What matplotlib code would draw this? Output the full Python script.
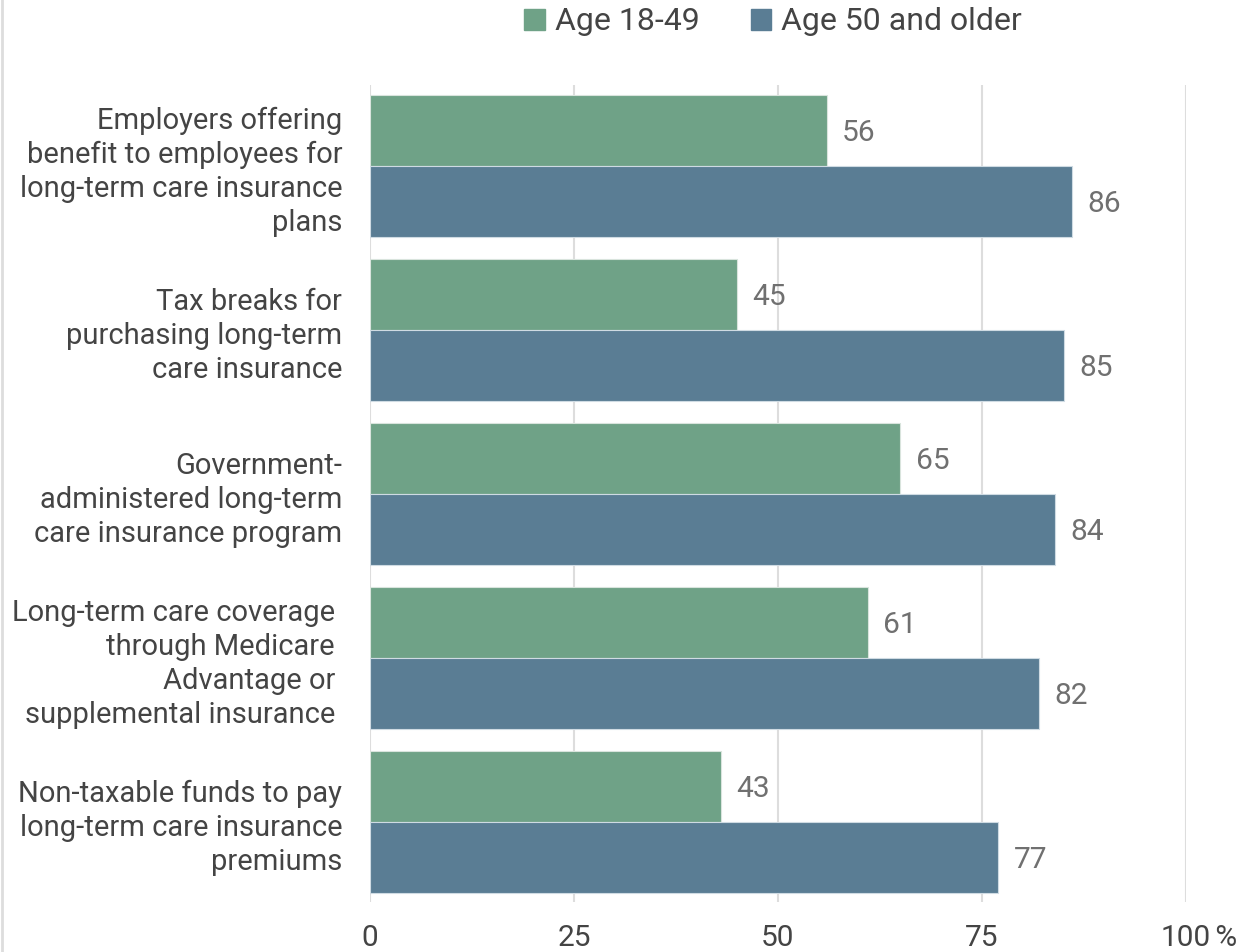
import numpy as np
import matplotlib.pyplot as plt
from matplotlib.lines import Line2D
from matplotlib.patches import Patch

plt.rcParams['font.family'] = ['Roboto', 'DejaVu Sans']

categories = [
    "Employers offering\nbenefit to employees for\nlong-term care insurance\nplans",
    "Tax breaks for\npurchasing long-term\ncare insurance",
    "Government-\nadministered long-term\ncare insurance program",
    "Long-term care coverage \nthrough Medicare \nAdvantage or \nsupplemental insurance ",
    "Non-taxable funds to pay\nlong-term care insurance\npremiums",
]
series_names = ["Age 18-49", "Age 50 and older"]
young = [56, 45, 65, 61, 43]
older = [86, 85, 84, 82, 77]
xticks = [0, 25, 50, 75, 100]

green = "#6fa287"
blue = "#5a7d94"
text_col = "#444444"
val_col = "#707070"

fig = plt.figure(figsize=(12.48, 9.52), dpi=100)
ax = fig.add_axes([370 / 1248, 1 - 902 / 952, 816 / 1248, 817 / 952])

y = np.arange(len(categories))
h = 0.433
b1 = ax.barh(y - h / 2, young, height=h, color=green, edgecolor="#d9e4dd", linewidth=0.8, zorder=3)
b2 = ax.barh(y + h / 2, older, height=h, color=blue, edgecolor="#cfdbe3", linewidth=0.8, zorder=3)

for bars, vals in [(b1, young), (b2, older)]:
    for bar, v in zip(bars, vals):
        ax.annotate(str(v), (v, bar.get_y() + bar.get_height() / 2),
                    xytext=(11, 0), textcoords="offset points",
                    ha="left", va="center_baseline", fontsize=21.5, color=val_col)

ax.set_xlim(0, 100)
ax.set_ylim(4.49, -0.494)
ax.set_yticks(y)
ax.set_yticklabels(categories, fontsize=21, color=text_col, linespacing=1.27)
ax.set_xticks(xticks)
ax.set_xticklabels([str(t) for t in xticks], fontsize=21.5, color=text_col)
ax.annotate(" %", (100, 0), xycoords=("data", "axes fraction"),
            xytext=(16, -16), textcoords="offset points",
            ha="left", va="top", fontsize=21.5, color=text_col, annotation_clip=False)
ax.tick_params(axis="y", length=0, pad=20)
ax.tick_params(axis="x", length=0, pad=16)
for s in ax.spines.values():
    s.set_visible(False)
ax.grid(axis="x", color="#dddddd", linewidth=1.5, zorder=0)

handles = [Patch(color=green), Patch(color=blue)]
fig.legend(handles, series_names, loc="center", bbox_to_anchor=(773 / 1248, 1 - 22 / 952),
           ncol=2, frameon=False, fontsize=23, handlelength=0.65, handleheight=0.65,
           handletextpad=0.3, columnspacing=1.6, labelcolor=text_col)

fig.add_artist(Line2D([0.002, 0.002], [0, 1], transform=fig.transFigure, color="#dddddd", linewidth=2))

fig.savefig("out.png", dpi=100)
